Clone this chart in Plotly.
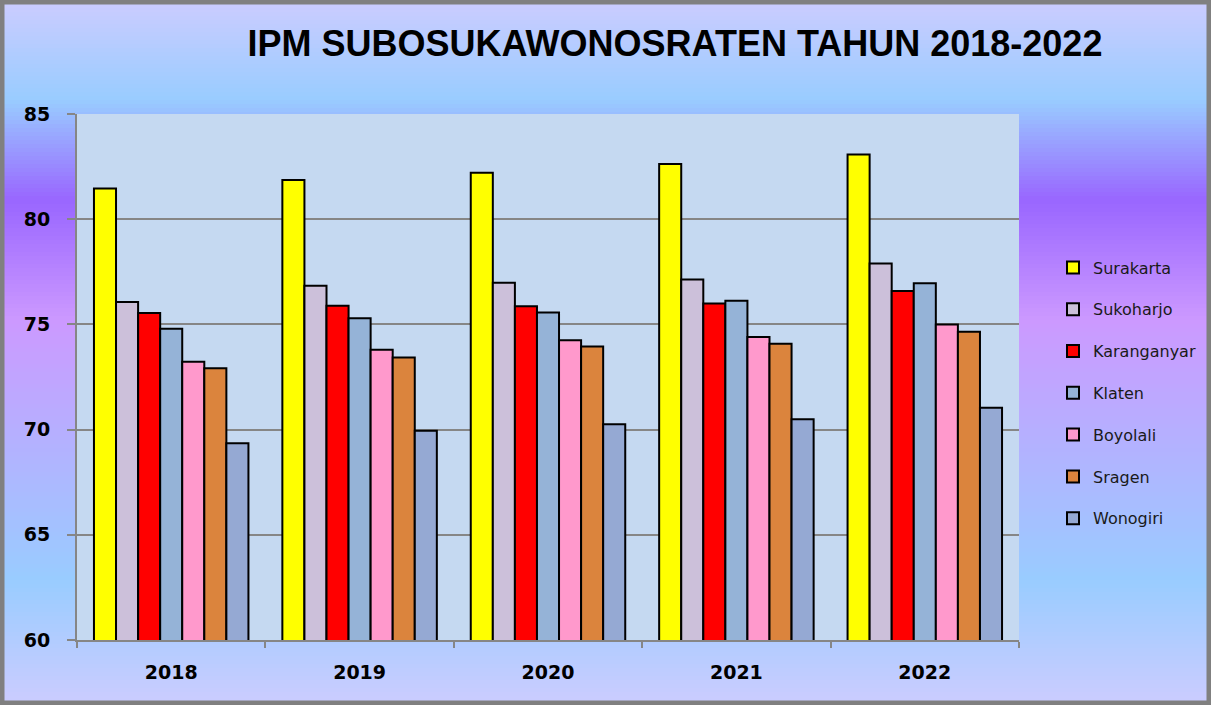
import plotly.graph_objects as go

years = ["2018", "2019", "2020", "2021", "2022"]
regions = ["Surakarta", "Sukoharjo", "Karanganyar", "Klaten", "Boyolali", "Sragen", "Wonogiri"]
surakarta = [81.46, 81.86, 82.21, 82.62, 83.08]
sukoharjo = [76.07, 76.84, 76.98, 77.13, 77.90]
karanganyar = [75.54, 75.89, 75.86, 75.99, 76.59]
klaten = [74.79, 75.29, 75.56, 76.12, 76.95]
boyolali = [73.22, 73.80, 74.25, 74.40, 75.00]
sragen = [72.92, 73.43, 73.95, 74.08, 74.65]
wonogiri = [69.35, 69.95, 70.25, 70.49, 71.04]
series = [surakarta, sukoharjo, karanganyar, klaten, boyolali, sragen, wonogiri]
colors = ["#FFFF00", "#CCC0DA", "#FF0000", "#95B3D7", "#FF99CC", "#DB843D", "#95A9D3"]

W, H = 1211, 705
ML, MR, MT, MB = 77, 192, 114, 65
PW, PH = W - ML - MR, H - MT - MB

def px_x(p):
    return (p - ML) / PW

def px_y(p):
    return (H - MB - p) / PH

fig = go.Figure()
for name, vals, col in zip(regions, series, colors):
    fig.add_trace(go.Bar(
        x=years, y=vals, name=name, legendgroup=name,
        marker=dict(color=col, line=dict(color="#000000", width=2)),
    ))

# background gradient
stops = [(0, (204, 204, 255)), (100, (153, 204, 255)), (200, (153, 102, 255)),
         (320, (204, 153, 255)), (580, (153, 204, 255)), (705, (204, 204, 255))]

def col_at(p):
    for (p0, c0), (p1, c1) in zip(stops[:-1], stops[1:]):
        if p0 <= p <= p1:
            t = (p - p0) / (p1 - p0)
            return "rgb(%d,%d,%d)" % tuple(round(a + (b - a) * t) for a, b in zip(c0, c1))
    return "rgb(%d,%d,%d)" % stops[-1][1]

shapes = []
step = 4
for p in range(0, H, step):
    shapes.append(dict(type="rect", xref="paper", yref="paper", layer="below",
                       x0=px_x(0), x1=px_x(W), y0=px_y(p + step + 0.5), y1=px_y(p),
                       fillcolor=col_at(p + step / 2), line=dict(width=0)))
# plot area background
shapes.append(dict(type="rect", xref="paper", yref="paper", layer="below",
                   x0=0, x1=1, y0=0, y1=1, fillcolor="#C5D9F1", line=dict(width=0)))
# outer frame
shapes.append(dict(type="rect", xref="paper", yref="paper", layer="above",
                   x0=px_x(2), x1=px_x(W - 2), y0=px_y(H - 2), y1=px_y(2),
                   fillcolor="rgba(0,0,0,0)", line=dict(color="#808080", width=5)))

fig.update_layout(
    width=W, height=H,
    margin=dict(l=ML, r=MR, t=MT, b=MB, autoexpand=False),
    paper_bgcolor="#C5D9F1",
    plot_bgcolor="rgba(0,0,0,0)",
    barmode="group", bargap=0.18, bargroupgap=0,
    shapes=shapes,
    title=dict(text="<b>IPM SUBOSUKAWONOSRATEN TAHUN 2018-2022</b>",
               font=dict(family="Liberation Sans", size=36, color="#000000"),
               xref="container", yref="container", x=675 / W, xanchor="center",
               y=1 - 43 / H, yanchor="middle"),
    legend=dict(x=px_x(1053), xanchor="left", y=px_y(393), yanchor="middle",
                font=dict(family="DejaVu Sans", size=16, color="#1a1a1a"),
                bgcolor="rgba(0,0,0,0)", traceorder="grouped", tracegroupgap=18),
    font=dict(family="DejaVu Sans"),
    xaxis=dict(showline=True, linecolor="#868686", linewidth=2,
               ticks="outside", tickson="boundaries", ticklen=6, tickcolor="#868686", tickwidth=2,
               tickfont=dict(family="DejaVu Sans", size=19, color="#000000", weight="bold"),
               ticklabelstandoff=14, showgrid=False),
    yaxis=dict(range=[60, 85], dtick=5, showline=True, linecolor="#868686", linewidth=2,
               ticks="outside", ticklen=8, tickcolor="#868686", tickwidth=2,
               gridcolor="#868686", gridwidth=2, zeroline=False,
               tickfont=dict(family="DejaVu Sans", size=19, color="#000000", weight="bold"),
               ticklabelstandoff=13),
)

fig.write_html("out.html", post_script="document.body.style.margin='0';",
               config={"displayModeBar": False})
